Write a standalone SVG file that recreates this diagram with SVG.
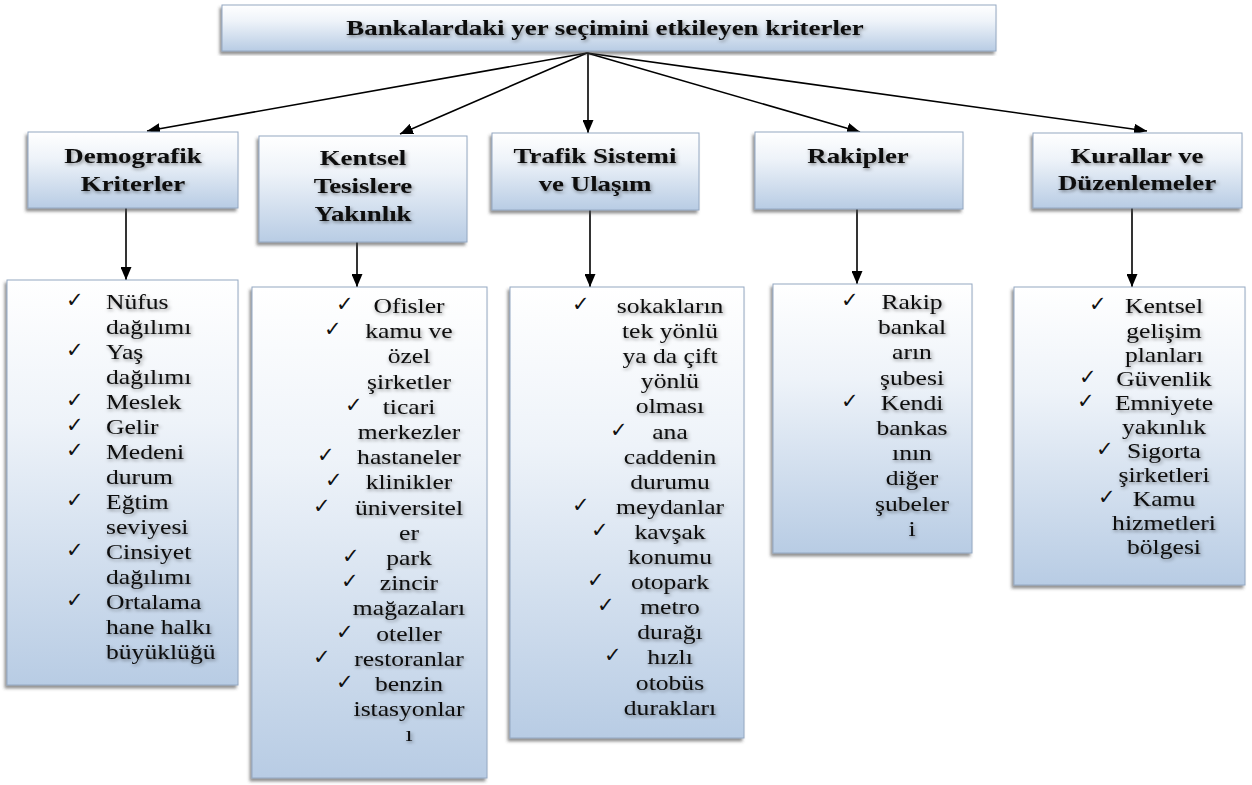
<svg xmlns="http://www.w3.org/2000/svg" width="1252" height="785" viewBox="0 0 1252 785">
<defs>
<linearGradient id="g" x1="0" y1="0" x2="0" y2="1">
<stop offset="0" stop-color="#ffffff"/>
<stop offset="0.35" stop-color="#eef3f9"/>
<stop offset="1" stop-color="#b8cce4"/>
</linearGradient>
<filter id="sh" x="-10%" y="-10%" width="120%" height="120%">
<feDropShadow dx="-2" dy="3" stdDeviation="1.5" flood-color="#4a4a4a" flood-opacity="0.6"/>
</filter>
<filter id="ts" x="-10%" y="-30%" width="120%" height="160%">
<feDropShadow dx="1" dy="2" stdDeviation="1.6" flood-color="#000" flood-opacity="0.4"/>
</filter>
<marker id="ah" markerUnits="userSpaceOnUse" markerWidth="13" markerHeight="11" refX="13" refY="5.5" orient="auto">
<path d="M0,0 L13,5.5 L0,11 z" fill="#000"/>
</marker>
</defs>
<style>
.box{fill:url(#g);stroke:#94a8c2;stroke-width:1;filter:url(#sh)}
.t{font-family:"Liberation Serif","Times New Roman",serif;font-size:21px;fill:#0a0a0a;filter:url(#ts)}
.h{font-weight:bold}
.m{text-anchor:middle}
.ck{font-family:"DejaVu Sans",sans-serif;font-size:21px;font-weight:bold;fill:#111}
.c{stroke:#000;stroke-width:1.6;fill:none;marker-end:url(#ah)}
</style>

<g id="connectors">
<line class="c" x1="587" y1="53" x2="147" y2="131"/>
<line class="c" x1="587" y1="53" x2="400" y2="134"/>
<line class="c" x1="588" y1="53" x2="588" y2="133"/>
<line class="c" x1="587" y1="53" x2="860" y2="132"/>
<line class="c" x1="587" y1="53" x2="1147" y2="131"/>
<line class="c" x1="126" y1="208" x2="126" y2="280"/>
<line class="c" x1="357" y1="242" x2="357" y2="287"/>
<line class="c" x1="590" y1="210" x2="590" y2="287"/>
<line class="c" x1="857" y1="209" x2="857" y2="284"/>
<line class="c" x1="1132" y1="208" x2="1132" y2="287"/>
</g>

<g id="title">
<rect class="box" x="222" y="5" width="774" height="46"/>
<g transform="translate(605 0) scale(1.28 1)"><text class="t h m" x="0" y="35">Bankalardaki yer seçimini etkileyen kriterler</text></g>
</g>

<g id="h1">
<rect class="box" x="28" y="132" width="210" height="76"/>
<g transform="translate(133 0) scale(1.28 1)" class="t h m">
<text x="0" y="163">Demografik</text>
<text x="0" y="191">Kriterler</text>
</g>
</g>

<g id="h2">
<rect class="box" x="259" y="136" width="208" height="106"/>
<g transform="translate(363 0) scale(1.28 1)" class="t h m">
<text x="0" y="165">Kentsel</text>
<text x="0" y="193">Tesislere</text>
<text x="0" y="221">Yakınlık</text>
</g>
</g>

<g id="h3">
<rect class="box" x="492" y="133" width="207" height="77"/>
<g transform="translate(595 0) scale(1.28 1)" class="t h m">
<text x="0" y="163">Trafik Sistemi</text>
<text x="0" y="191">ve Ulaşım</text>
</g>
</g>

<g id="h4">
<rect class="box" x="755" y="132" width="208" height="77"/>
<g transform="translate(858 0) scale(1.28 1)" class="t h m">
<text x="0" y="163">Rakipler</text>
</g>
</g>

<g id="h5">
<rect class="box" x="1033" y="133" width="209" height="75"/>
<g transform="translate(1137 0) scale(1.28 1)" class="t h m">
<text x="0" y="163">Kurallar ve</text>
<text x="0" y="190">Düzenlemeler</text>
</g>
</g>

<g id="list1">
<rect class="box" x="7" y="280" width="231" height="405"/>
<g transform="translate(106 0) scale(1.22 1)" class="t">
<text x="0" y="309">Nüfus</text>
<text x="0" y="334">dağılımı</text>
<text x="0" y="359">Yaş</text>
<text x="0" y="384">dağılımı</text>
<text x="0" y="409">Meslek</text>
<text x="0" y="434">Gelir</text>
<text x="0" y="459">Medeni</text>
<text x="0" y="484">durum</text>
<text x="0" y="509">Eğtim</text>
<text x="0" y="534">seviyesi</text>
<text x="0" y="559">Cinsiyet</text>
<text x="0" y="584">dağılımı</text>
<text x="0" y="609">Ortalama</text>
<text x="0" y="634">hane halkı</text>
<text x="0" y="659">büyüklüğü</text>
</g>
<g class="ck">
<text x="66" y="307">✓</text>
<text x="66" y="357">✓</text>
<text x="66" y="407">✓</text>
<text x="66" y="432">✓</text>
<text x="66" y="457">✓</text>
<text x="66" y="507">✓</text>
<text x="66" y="557">✓</text>
<text x="66" y="607">✓</text>
</g>
</g>

<g id="list2">
<rect class="box" x="252" y="287" width="235" height="491"/>
<g transform="translate(409 0) scale(1.22 1)" class="t m">
<text x="0" y="313">Ofisler</text>
<text x="0" y="338">kamu ve</text>
<text x="0" y="363">özel</text>
<text x="0" y="389">şirketler</text>
<text x="0" y="414">ticari</text>
<text x="0" y="439">merkezler</text>
<text x="0" y="464">hastaneler</text>
<text x="0" y="489">klinikler</text>
<text x="0" y="515">üniversitel</text>
<text x="0" y="540">er</text>
<text x="0" y="565">park</text>
<text x="0" y="590">zincir</text>
<text x="0" y="615">mağazaları</text>
<text x="0" y="641">oteller</text>
<text x="0" y="666">restoranlar</text>
<text x="0" y="691">benzin</text>
<text x="0" y="716">istasyonlar</text>
<text x="0" y="741">ı</text>
</g>
<g class="ck">
<text x="336" y="311">✓</text>
<text x="324" y="336">✓</text>
<text x="345" y="412">✓</text>
<text x="317" y="462">✓</text>
<text x="325" y="487">✓</text>
<text x="313" y="513">✓</text>
<text x="342" y="563">✓</text>
<text x="341" y="588">✓</text>
<text x="336" y="639">✓</text>
<text x="313" y="664">✓</text>
<text x="336" y="689">✓</text>
</g>
</g>

<g id="list3">
<rect class="box" x="510" y="287" width="234" height="451"/>
<g transform="translate(670 0) scale(1.22 1)" class="t m">
<text x="0" y="313">sokakların</text>
<text x="0" y="338">tek yönlü</text>
<text x="0" y="363">ya da çift</text>
<text x="0" y="388">yönlü</text>
<text x="0" y="413">olması</text>
<text x="0" y="439">ana</text>
<text x="0" y="464">caddenin</text>
<text x="0" y="489">durumu</text>
<text x="0" y="514">meydanlar</text>
<text x="0" y="539">kavşak</text>
<text x="0" y="564">konumu</text>
<text x="0" y="589">otopark</text>
<text x="0" y="614">metro</text>
<text x="0" y="639">durağı</text>
<text x="0" y="664">hızlı</text>
<text x="0" y="690">otobüs</text>
<text x="0" y="715">durakları</text>
</g>
<g class="ck">
<text x="572" y="311">✓</text>
<text x="610" y="437">✓</text>
<text x="572" y="512">✓</text>
<text x="591" y="537">✓</text>
<text x="587" y="587">✓</text>
<text x="597" y="612">✓</text>
<text x="604" y="662">✓</text>
</g>
</g>

<g id="list4">
<rect class="box" x="773" y="284" width="199" height="269"/>
<g transform="translate(912 0) scale(1.22 1)" class="t m">
<text x="0" y="309">Rakip</text>
<text x="0" y="334">bankal</text>
<text x="0" y="359">arın</text>
<text x="0" y="385">şubesi</text>
<text x="0" y="410">Kendi</text>
<text x="0" y="435">bankas</text>
<text x="0" y="460">ının</text>
<text x="0" y="485">diğer</text>
<text x="0" y="511">şubeler</text>
<text x="0" y="536">i</text>
</g>
<g class="ck">
<text x="841" y="307">✓</text>
<text x="841" y="408">✓</text>
</g>
</g>

<g id="list5">
<rect class="box" x="1014" y="287" width="231" height="298"/>
<g transform="translate(1164 0) scale(1.22 1)" class="t m">
<text x="0" y="313">Kentsel</text>
<text x="0" y="338">gelişim</text>
<text x="0" y="362">planları</text>
<text x="0" y="386">Güvenlik</text>
<text x="0" y="410">Emniyete</text>
<text x="0" y="434">yakınlık</text>
<text x="0" y="458">Sigorta</text>
<text x="0" y="482">şirketleri</text>
<text x="0" y="506">Kamu</text>
<text x="0" y="530">hizmetleri</text>
<text x="0" y="554">bölgesi</text>
</g>
<g class="ck">
<text x="1089" y="311">✓</text>
<text x="1079" y="384">✓</text>
<text x="1077" y="408">✓</text>
<text x="1096" y="456">✓</text>
<text x="1098" y="504">✓</text>
</g>
</g>
</svg>
